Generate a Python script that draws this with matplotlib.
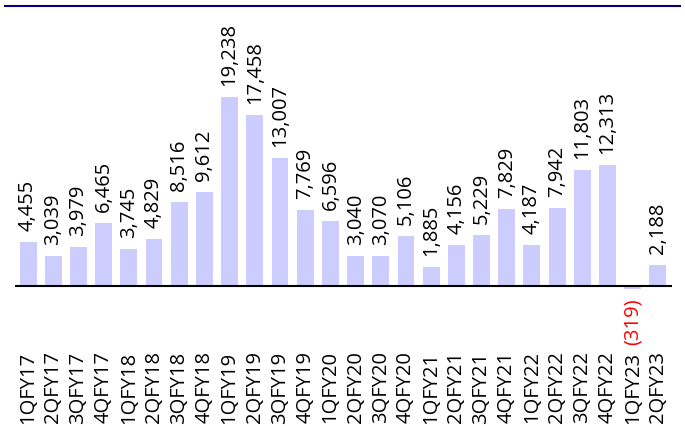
import matplotlib
matplotlib.use("Agg")
import matplotlib.pyplot as plt
from matplotlib.lines import Line2D

# Quarterly values
quarters = ["1QFY17", "2QFY17", "3QFY17", "4QFY17", "1QFY18", "2QFY18", "3QFY18",
            "4QFY18", "1QFY19", "2QFY19", "3QFY19", "4QFY19", "1QFY20", "2QFY20",
            "3QFY20", "4QFY20", "1QFY21", "2QFY21", "3QFY21", "4QFY21", "1QFY22",
            "2QFY22", "3QFY22", "4QFY22", "1QFY23", "2QFY23"]
values = [4455, 3039, 3979, 6465, 3745, 4829, 8516, 9612, 19238, 17458, 13007,
          7769, 6596, 3040, 3070, 5106, 1885, 4156, 5229, 7829, 4187, 7942,
          11803, 12313, -319, 2188]

plt.rcParams['font.family'] = ['Open Sans', 'DejaVu Sans']

W, H = 685, 427
fig = plt.figure(figsize=(W / 100, H / 100), dpi=100)

# axes placed in pixel terms: x 15..672, y 7..300 (from top)
ax = fig.add_axes([15 / W, 1 - 300 / H, (672 - 15) / W, (300 - 7) / H])

x = list(range(len(values)))
ax.bar(x, values, width=0.67, color="#CCCCFF")
ax.axhline(0, color="black", lw=1.5)

ax.set_xlim(-0.52, len(values) - 1 + 0.56)
ax.set_ylim(-1324, 28520)

for i, v in enumerate(values):
    if v < 0:
        ax.annotate("({:,})".format(-v), (i, v), xytext=(0, -8), textcoords="offset pixels",
                    rotation=90, ha="center", va="top", fontsize=14.5, color="red")
    else:
        ax.annotate("{:,}".format(v), (i, v), xytext=(0, 12), textcoords="offset pixels",
                    rotation=90, ha="center", va="bottom", fontsize=14.5, color="black")

ax.set_xticks(x)
ax.set_xticklabels(quarters, rotation=90, fontsize=14.5)
ax.tick_params(axis="x", length=0, pad=37)
ax.set_yticks([])
for s in ax.spines.values():
    s.set_visible(False)

# navy rule at the top
fig.add_artist(Line2D([5 / W, 680 / W], [1 - 7 / H, 1 - 7 / H], color="#000080", lw=1.5,
                      transform=fig.transFigure))

fig.savefig("out.png", dpi=100)
